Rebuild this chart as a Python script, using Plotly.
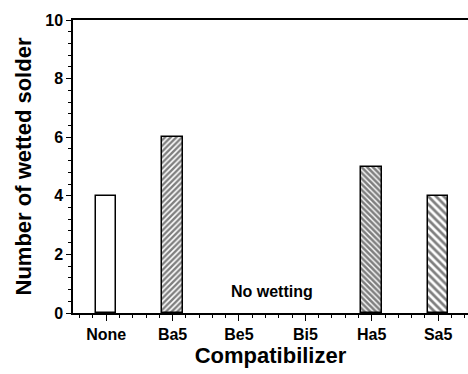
import plotly.graph_objects as go

# Wetting results per compatibilizer
categories = ["None", "Ba5", "Be5", "Bi5", "Ha5", "Sa5"]
wetted = [4, 6, 0, 0, 5, 4]
y_ticks = [0, 2, 4, 6, 8, 10]

positions = list(range(1, len(categories) + 1))

# fill styles for each bar: (pattern shape, spacing, solidity)
styles = [("", 8, 0.3), ("/", 4, 0.6), ("", 8, 0.3), ("", 8, 0.3), ("\\", 4, 0.65), ("\\", 5.5, 0.5)]

fig = go.Figure()
for pos, val, (shape, size, sol) in zip(positions, wetted, styles):
    fig.add_trace(go.Bar(
        x=[pos], y=[val], width=0.31,
        marker=dict(
            color="white",
            # empty bars (no wetting) get no outline
            line=dict(color="black", width=1.5 if val > 0 else 0),
            pattern=dict(shape=shape, size=size, solidity=sol,
                         fgcolor="black", bgcolor="white", fillmode="overlay"),
        ),
        showlegend=False,
    ))

fig.add_annotation(x=3.5, y=0.72, text="<b>No wetting</b>", showarrow=False,
                   font=dict(family="Liberation Sans, Arial", size=16, color="black"))

font = dict(family="Liberation Sans, Arial", size=16, color="black")
fig.update_layout(
    width=468, height=374,
    margin=dict(l=73, r=0, t=20, b=61),
    paper_bgcolor="white", plot_bgcolor="white",
    font=font,
    bargap=0,
    xaxis=dict(
        range=[0.5, 6.45],
        tickmode="array", tickvals=positions,
        ticktext=[f"<b>{c}</b>" for c in categories],
        ticks="outside", ticklen=6, tickwidth=1.3, tickcolor="black",
        showline=True, linecolor="black", linewidth=1.5, mirror=True,
        showgrid=False, zeroline=False,
        minor=dict(ticks="outside", ticklen=3, tickwidth=1, tickcolor="black",
                   dtick=0.2, tick0=0, showgrid=False),
        title=dict(text="<b>Compatibilizer</b>", standoff=4,
                   font=dict(family="Liberation Sans, Arial", size=22)),
    ),
    yaxis=dict(
        range=[0, 10],
        tickmode="array", tickvals=y_ticks,
        ticktext=[f"<b>{v}</b>" for v in y_ticks],
        ticks="outside", ticklen=5, tickwidth=1.3, tickcolor="black",
        showline=True, linecolor="black", linewidth=1.5,
        showgrid=False, zeroline=False,
        minor=dict(ticks="outside", ticklen=3, tickwidth=1, tickcolor="black",
                   dtick=0.4, tick0=0, showgrid=False),
        title=dict(text="<b>Number of wetted solder</b>", standoff=8,
                   font=dict(family="Liberation Sans, Arial", size=22)),
    ),
)

fig.write_html("out.html")
